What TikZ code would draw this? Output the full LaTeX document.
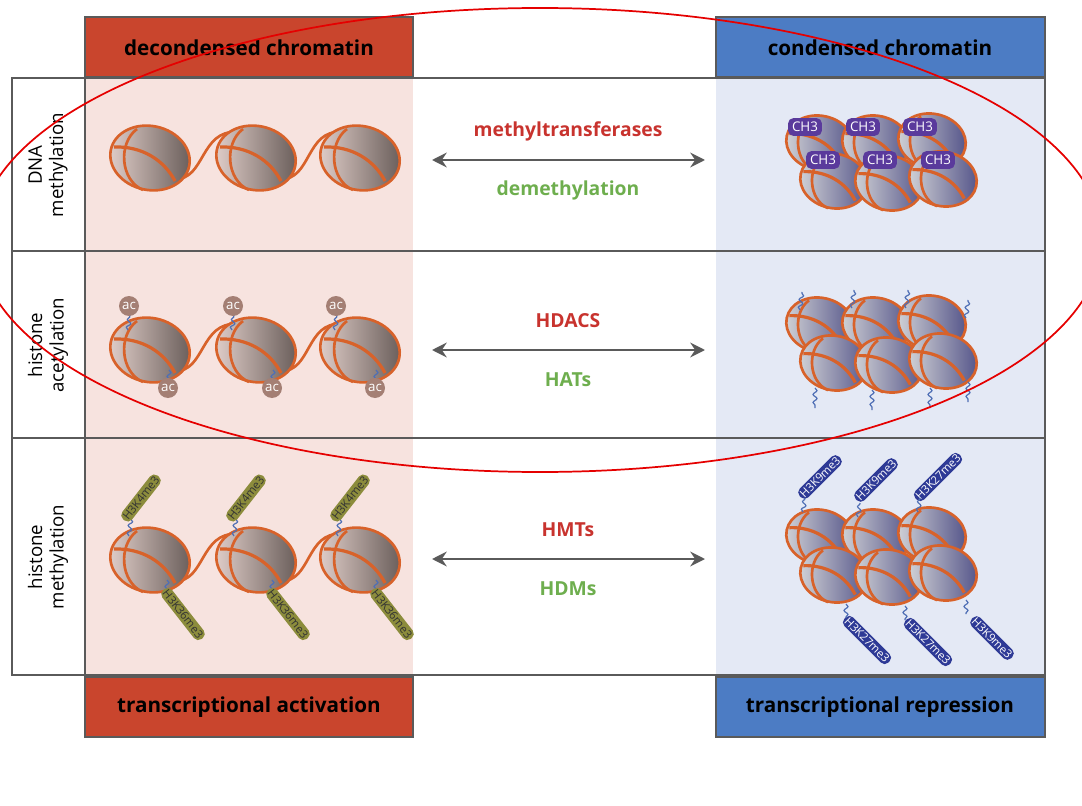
\documentclass[tikz,border=0pt]{standalone}
\usepackage{fontspec}
\setmainfont{Open Sans}
\usetikzlibrary{arrows.meta,decorations.pathmorphing}
\definecolor{hdred}{HTML}{C9452D}
\definecolor{hdblue}{HTML}{4C7CC4}
\definecolor{bgpink}{HTML}{F7E3DF}
\definecolor{bgblue}{HTML}{E4E9F5}
\definecolor{frame}{HTML}{5A5A5A}
\definecolor{band}{HTML}{D8622A}
\definecolor{txtred}{HTML}{C8332E}
\definecolor{txtgreen}{HTML}{6EAE4E}
\definecolor{tagpurple}{HTML}{5A3A9C}
\definecolor{tagblue}{HTML}{2E3A96}
\definecolor{tagolive}{HTML}{8C8C3C}
\definecolor{acbrown}{HTML}{A47F74}
\definecolor{tail}{HTML}{4F6FB5}
\tikzset{
  box/.style={draw=frame,line width=2.2pt},
  head/.style={font=\bfseries\fontsize{15.5}{18}\selectfont},
  enz/.style={font=\bfseries\fontsize{14.5}{17}\selectfont},
  rowlab/.style={font=\fontsize{14}{16}\selectfont,rotate=90,align=center},
  linker/.style={band,line width=2pt},
  tag/.style={rounded corners=4pt,text=white,inner sep=1.5pt,font=\fontsize{8.5}{9}\selectfont},
  wig/.style={tail,line width=0.9pt,decorate,decoration={snake,amplitude=1.5pt,segment length=6pt}},
}
% nucleosome: x, y, scale, light, dark
\newcommand{\nucl}[5]{%
  \begin{scope}[shift={(#1,#2)},scale=#3]
    \shade[left color=#4,right color=#5,rotate=-12] (0,0) ellipse (40 and 32);
    \draw[band,line width=2pt,rotate=-12] (0,0) ellipse (40 and 32);
    \draw[band,line width=2pt] (-13,-29) .. controls (-32,-15) and (-30,22) .. (-7,32);
    \draw[band,line width=2.4pt] (-36,-11) .. controls (-8,-12) and (14,2) .. (25,23);
  \end{scope}}
\begin{document}
\begin{tikzpicture}[x=0.75pt,y=-0.75pt]
\useasboundingbox (0,0) rectangle (1082,806);
% backgrounds
\fill[bgpink] (85,78) rectangle (413,675);
\fill[bgblue] (716,78) rectangle (1045,675);
% frames
\draw[box] (12,78) rectangle (1045,675);
\draw[box] (12,251) -- (1045,251);
\draw[box] (12,438) -- (1045,438);
\draw[box] (85,78) -- (85,675);
\draw[box,fill=hdred] (85,17) rectangle (413,77);
\draw[box,fill=hdblue] (716,17) rectangle (1045,77);
\draw[box,fill=hdred] (85,677) rectangle (413,737);
\draw[box,fill=hdblue] (716,677) rectangle (1045,737);
\node[head] (dec) at (249,48) {decondensed chromatin};
\node[head] (con) at (880,48) {condensed chromatin};
\node[head] (act) at (249,707) {transcriptional activation};
\node[head] (rep) at (880,707) {transcriptional repression};
% row labels
\node[rowlab] (r1) at (48,165) {DNA\\methylation};
\node[rowlab] (r2) at (48,345) {histone\\acetylation};
\node[rowlab] (r3) at (48,557) {histone\\methylation};
% arrows and enzymes
\foreach \y/\up/\dn in {160/methyltransferases/demethylation,350/HDACS/HATs,559/HMTs/HDMs}{
  \coordinate (al) at (432,\y);
  \coordinate (ar) at (705,\y);
  \draw[frame,line width=2pt,{Stealth[length=11pt,width=11pt]}-{Stealth[length=11pt,width=11pt]}] (al) -- (ar);
  \node[enz,text=txtred] at (568,\y-29) {\up};
  \node[enz,text=txtgreen] at (568,\y+30) {\dn};
}
% left chains
\foreach \y in {158,350,560}{
  \draw[linker] (175,\y+21) .. controls (205,\y+22) and (200,\y-28) .. (237,\y-26);
  \draw[linker] (281,\y+21) .. controls (311,\y+22) and (306,\y-28) .. (341,\y-26);
  \foreach \x in {150,256,360}{
    \nucl{\x}{\y}{1}{bgpink!60!acbrown!70}{acbrown!40!black!80}
  }
}
% acetyl groups
\foreach \x in {132,236,339}{
  \draw[wig] (\x-4,330) -- (\x-2,315);
  \node[circle,fill=acbrown,text=white,inner sep=0.5pt,minimum size=15pt,font=\fontsize{10}{10}\selectfont] at (\x-3,306) {ac};
  \draw[wig] (\x+37,370) -- (\x+37,381);
  \node[circle,fill=acbrown,text=white,inner sep=0.5pt,minimum size=15pt,font=\fontsize{10}{10}\selectfont] at (\x+36,388) {ac};
}
% olive tags
\foreach \x in {141,246,350}{
  \draw[wig] (\x-12,536) -- (\x-10,518);
  \node[tag,fill=tagolive,text=black!80,rotate=52] at (\x,498) {H3K4me3};
  \draw[wig] (\x+26,580) -- (\x+26,596);
  \node[tag,fill=tagolive,text=black!80,rotate=-52] at (\x+42,614) {H3K36me3};
}
% right clusters
\foreach \y in {143,325,537}{
  \foreach \x/\dx/\dy in {820/0/0,876/0/0,932/0/-2,828/6/38,885/4/40,945/-2/36}{
    \nucl{\x+\dx}{\y+\dy}{0.85}{bgblue!40!gray!50}{black!40!blue!35!gray}
  }
}
% CH3 tags
\foreach \x/\y in {805/127,863/127,920/127,823/160,880/160,938/160}{
  \node[tag,fill=tagpurple,font=\fontsize{10}{11}\selectfont,inner sep=3pt] at (\x,\y) {CH3};
}
% acetylation tails on condensed
\foreach \x/\y in {800/310,852/308,906/308,966/318}{
  \draw[wig] (\x,\y) -- (\x+2,\y-18);
}
\foreach \x/\y in {815/402,872/404,930/402,968/396}{
  \draw[wig] (\x,\y-14) -- (\x,\y+6);
}
% blue tags
\foreach \x/\y/\t in {820/477/H3K9me3,876/480/H3K9me3,938/477/H3K27me3}{
  \node[tag,fill=tagblue,rotate=45] at (\x,\y) {\t};
}
\foreach \x/\y/\t in {867/640/H3K27me3,928/642/H3K27me3,992/638/H3K9me3}{
  \node[tag,fill=tagblue,rotate=-45] at (\x,\y) {\t};
}
\foreach \x/\y in {803/512,858/517,918/512}{
  \draw[wig] (\x,\y) -- (\x+2,\y-14);
}
\foreach \x/\y in {846/604,905/606,966/600}{
  \draw[wig] (\x,\y) -- (\x,\y+14);
}
% highlight
\draw[red!90!black,line width=1.3pt] (540,240) ellipse (562 and 232);
\end{tikzpicture}
\end{document}
